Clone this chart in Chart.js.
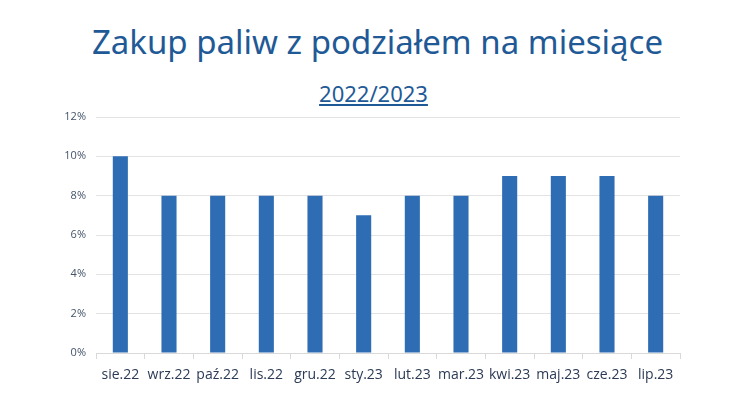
<!DOCTYPE html>
<html>
<head>
<meta charset="utf-8">
<script src="https://cdn.jsdelivr.net/npm/chart.js@4/dist/chart.umd.min.js"></script>
<style>
  html, body { margin: 0; padding: 0; background: #fff; }
  #wrap { position: relative; width: 755px; height: 394px; overflow: hidden; }
  #title { position: absolute; left: 0; width: 755px; top: 19px; text-align: center;
    font-family: "Noto Sans", sans-serif; font-size: 33px; color: #1f5a96; }
  #sub { position: absolute; left: -4px; width: 755px; top: 78px; text-align: center;
    font-family: "Noto Sans", sans-serif; font-size: 22px; color: #1f5a96; text-decoration: underline; }
  canvas { position: absolute; left: 0; top: 0; }
</style>
</head>
<body>
<div id="wrap">
  <div id="title">Zakup paliw z podziałem na miesiące</div>
  <div id="sub">2022/2023</div>
  <canvas id="fuelChart" width="755" height="394"></canvas>
</div>
<script>
// Monthly fuel purchase share
const months = ['sie.22', 'wrz.22', 'paź.22', 'lis.22', 'gru.22', 'sty.23', 'lut.23', 'mar.23', 'kwi.23', 'maj.23', 'cze.23', 'lip.23'];
const shares = [10, 8, 8, 8, 8, 7, 8, 8, 9, 9, 9, 8];
const yTicks = [0, 2, 4, 6, 8, 10, 12];

const canvas = document.getElementById('fuelChart');
new Chart(canvas, {
    type: 'bar',
    data: {
        labels: months,
        datasets: [{
            data: shares,
            backgroundColor: '#2e6db4',
            categoryPercentage: 1,
            barPercentage: 0.31
        }]
    },
    options: {
        responsive: false,
        animation: false,
        layout: { padding: { top: 117, right: 75, left: 0, bottom: 0 } },
        plugins: { legend: { display: false }, tooltip: { enabled: false } },
        scales: {
            x: {
                grid: { drawOnChartArea: false, color: '#d9d9d9', tickLength: 6, offset: true },
                border: { color: '#d9d9d9' },
                ticks: { color: '#2b3a55', font: { family: 'Open Sans', size: 14 }, padding: 8, maxRotation: 0, autoSkip: false },
                afterFit: function(scale) { scale.height = 41; }
            },
            y: {
                min: 0,
                max: 12,
                afterBuildTicks: function(scale) { scale.ticks = yTicks.map(v => ({ value: v })); },
                grid: { color: '#e3e3e3', drawTicks: false },
                border: { display: false },
                ticks: {
                    color: '#44546a',
                    font: { family: 'Open Sans', size: 11 },
                    padding: 10,
                    callback: function(value) { return value + '%'; }
                },
                afterFit: function(scale) { scale.width = 96; }
            }
        }
    }
});
</script>
</body>
</html>
